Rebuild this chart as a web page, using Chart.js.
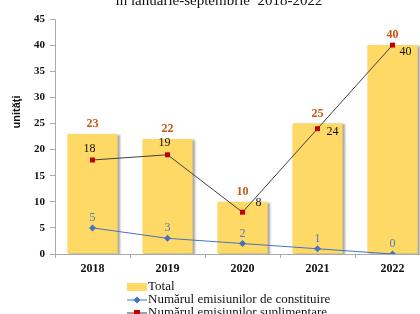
<!DOCTYPE html>
<html>
<head>
<meta charset="utf-8">
<script src="https://cdn.jsdelivr.net/npm/chart.js@4"></script>
<style>
    body { margin: 0; width: 420px; height: 314px; overflow: hidden; background: #fff; position: relative; }
    #chart { position: absolute; left: 0; top: 0; }
    #legend { position: absolute; left: 127px; top: 279px; font-family: "Liberation Serif", serif; font-size: 13px; color: #111; }
    #legend div { height: 13px; line-height: 13px; white-space: nowrap; }
    #legend svg { vertical-align: middle; margin-right: 1px; }
</style>
</head>
<body>
<canvas id="chart" width="440" height="280"></canvas>
<div id="legend">
    <div><svg width="20" height="10"><rect x="0" y="1" width="20" height="8" fill="#FFD966"/></svg>Total</div>
    <div><svg width="20" height="10"><line x1="0" y1="5" x2="20" y2="5" stroke="#4472C4" stroke-width="1"/><rect x="7.5" y="2.5" width="5" height="5" fill="#4472C4" transform="rotate(45 10 5)"/></svg>Numărul emisiunilor de constituire</div>
    <div><svg width="20" height="10"><line x1="0" y1="5" x2="20" y2="5" stroke="#404040" stroke-width="1"/><rect x="7" y="2" width="6" height="6" fill="#C00000"/></svg>Numărul emisiunilor suplimentare</div>
</div>
<script>
// Chart data
const years = ['2018', '2019', '2020', '2021', '2022'];
const totalValues = [23, 22, 10, 25, 40];
const constituireValues = [5, 3, 2, 1, 0];
const suplimentareValues = [18, 19, 8, 24, 40];
const yTicks = [0, 5, 10, 15, 20, 25, 30, 35, 40, 45];

const serif = '"Liberation Serif", "Times New Roman", serif';

// Draws value labels next to each point / bar
const valueLabels = {
    id: 'valueLabels',
    afterDatasetsDraw(chart) {
        const ctx = chart.ctx;
        ctx.save();
        ctx.textAlign = 'center';
        ctx.textBaseline = 'middle';
        chart.data.datasets.forEach(function(ds, i) {
            const meta = chart.getDatasetMeta(i);
            meta.data.forEach(function(el, j) {
                const off = ds.labelOffsets[j];
                ctx.font = ds.labelFont;
                ctx.fillStyle = ds.labelColor;
                ctx.fillText(ds.data[j], el.x + off[0], el.y + off[1]);
            });
        });
        ctx.restore();
    }
};

// Title (cut at the top) and rotated y-axis title
const extraText = {
    id: 'extraText',
    afterDraw(chart) {
        const ctx = chart.ctx;
        ctx.save();
        ctx.fillStyle = '#111';
        ctx.font = '15px ' + serif;
        ctx.textAlign = 'center';
        ctx.textBaseline = 'alphabetic';
        ctx.fillText('în ianuarie-septembrie  2018-2022', 219, 5);

        ctx.translate(17, 112);
        ctx.rotate(-Math.PI / 2);
        ctx.font = 'bold 11px "Liberation Sans", Arial, sans-serif';
        ctx.textBaseline = 'middle';
        ctx.fillText('unităţi', 0, 0);
        ctx.restore();
    }
};

// Soft shadow on the bars
const barShadow = {
    id: 'barShadow',
    beforeDatasetDraw(chart, args) {
        if (args.meta.type === 'bar') {
            const ctx = chart.ctx;
            ctx.save();
            ctx.shadowColor = 'rgba(0,0,0,0.35)';
            ctx.shadowOffsetX = 2;
            ctx.shadowOffsetY = 1;
            ctx.shadowBlur = 2;
        }
    },
    afterDatasetDraw(chart, args) {
        if (args.meta.type === 'bar') {
            chart.ctx.restore();
        }
    }
};

const ctx = document.getElementById('chart').getContext('2d');
const chart = new Chart(ctx, {
    type: 'bar',
    data: {
        labels: years,
        datasets: [{
            type: 'line',
            label: 'Numărul emisiunilor de constituire',
            data: constituireValues,
            borderColor: '#4472C4',
            borderWidth: 1,
            backgroundColor: '#4472C4',
            pointStyle: 'rectRot',
            pointRadius: 3.5,
            pointBorderWidth: 0,
            tension: 0,
            order: 1,
            labelFont: '12px ' + serif,
            labelColor: '#4F7AC7',
            labelOffsets: [[0, -10], [0, -10], [0, -10], [0, -10], [0, -10]]
        }, {
            type: 'line',
            label: 'Numărul emisiunilor suplimentare',
            data: suplimentareValues,
            borderColor: '#404040',
            borderWidth: 1,
            backgroundColor: '#C00000',
            pointStyle: 'rect',
            pointRadius: 3.5,
            pointBorderWidth: 0,
            tension: 0,
            order: 2,
            labelFont: '12px ' + serif,
            labelColor: '#111',
            labelOffsets: [[-3, -11], [-3, -12], [16, -9], [15, 3], [13, 7]]
        }, {
            type: 'bar',
            label: 'Total',
            data: totalValues,
            backgroundColor: '#FFD966',
            barPercentage: 0.67,
            categoryPercentage: 1,
            order: 3,
            labelFont: 'bold 12px ' + serif,
            labelColor: '#C65911',
            labelOffsets: [[0, -10], [0, -10], [0, -10], [0, -10], [0, -10]]
        }]
    },
    options: {
        responsive: false,
        animation: false,
        layout: {
            padding: { top: 19, right: 10, left: 0, bottom: 0 }
        },
        plugins: {
            legend: { display: false },
            title: { display: false },
            tooltip: { enabled: false }
        },
        scales: {
            x: {
                grid: {
                    display: true,
                    drawOnChartArea: false,
                    offset: true,
                    tickLength: 4,
                    color: '#aaa'
                },
                border: { display: true, color: '#aaa' },
                ticks: {
                    color: '#111',
                    padding: 4,
                    font: { family: serif, size: 12, weight: 'bold' }
                },
                afterFit: function(scale) { scale.height = 26; }
            },
            y: {
                min: 0,
                max: 45,
                afterBuildTicks: function(scale) {
                    scale.ticks = yTicks.map(v => ({ value: v }));
                },
                grid: {
                    drawOnChartArea: false,
                    tickLength: 5,
                    color: '#aaa'
                },
                border: { display: true, color: '#aaa' },
                ticks: {
                    color: '#111',
                    padding: 5,
                    font: { family: serif, size: 11, weight: 'bold' }
                },
                afterFit: function(scale) { scale.width = 55; }
            }
        }
    },
    plugins: [barShadow, valueLabels, extraText]
});
</script>
</body>
</html>
